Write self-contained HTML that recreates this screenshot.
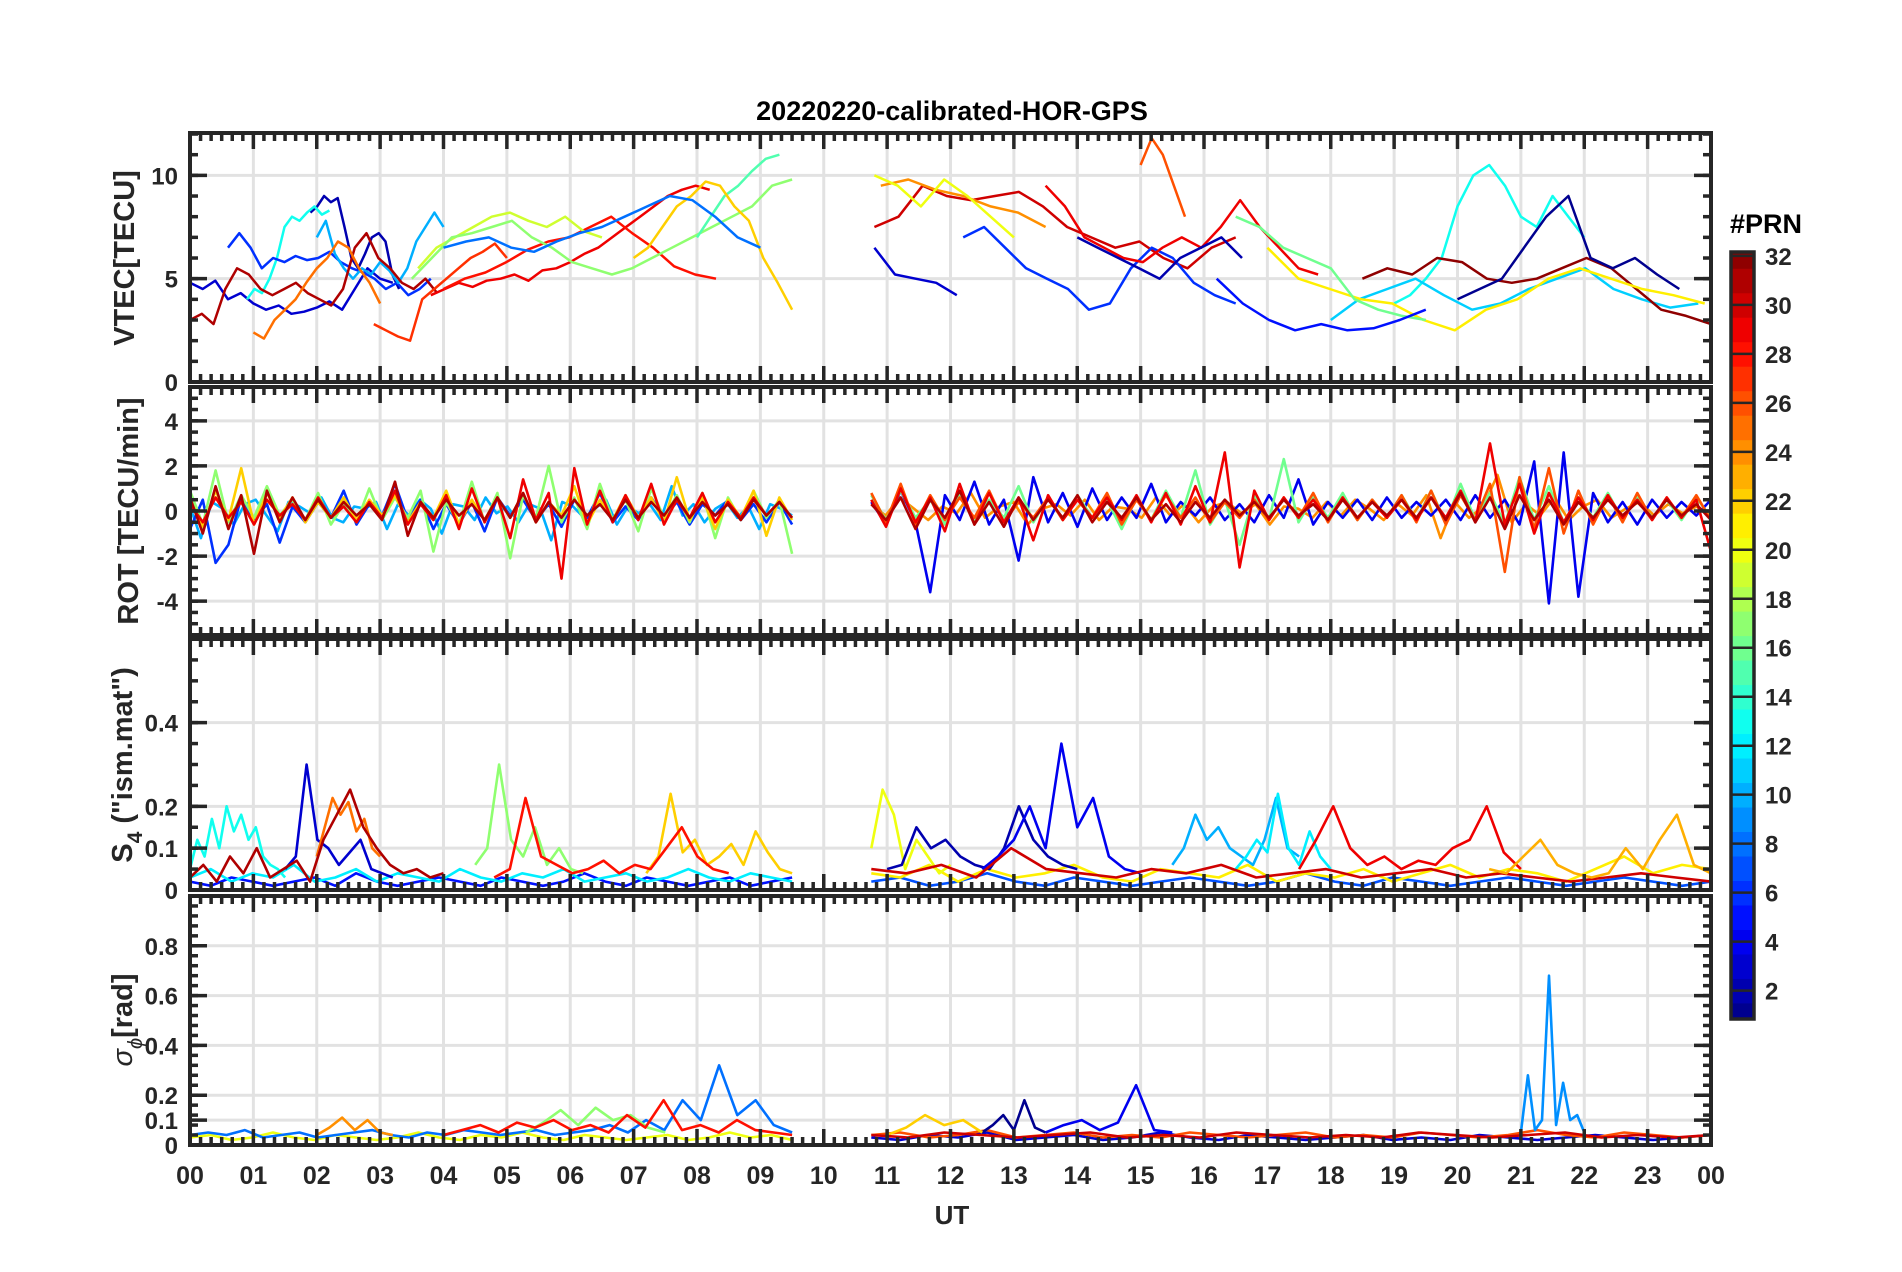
<!DOCTYPE html>
<html><head><meta charset="utf-8"><style>
html,body{margin:0;padding:0;background:#fff}
svg{display:block}
text{font-family:"Liberation Sans",Arial,sans-serif;font-weight:bold;fill:#262626}
</style></head><body>
<svg id="chart" width="1902" height="1272" viewBox="0 0 1902 1272" xmlns="http://www.w3.org/2000/svg">
<text x="952" y="120" text-anchor="middle" font-size="27" style="fill:#000">20220220-calibrated-HOR-GPS</text>
<text x="952" y="1224" text-anchor="middle" font-size="26">UT</text>
<g id="layer"></g>
</svg>
<script>
// ---------------- DATA ----------------
const xTickLabels=["00","01","02","03","04","05","06","07","08","09","10","11","12","13","14","15","16","17","18","19","20","21","22","23","00"];
const cbTickLabels=[2,4,6,8,10,12,14,16,18,20,22,24,26,28,30,32];
// VTEC series: prn, start hour, end hour, values (TECU)
const vtecPrn=[3,2,13,6,10,31,25,27,29,28,19,17,15,22,8, 30,24,20,3,6,29,26,2,13,11,32,21,1,16,5];
const vtecStart=[0,1.9,0.9,0.6,2.0,0,1.0,2.9,3.8,4.0,3.6,3.5,8.0,7.0,4.0, 10.8,10.9,10.8,10.8,12.2,13.5,15.0,14.0,19.0,18.0,18.5,17.0,20.0,16.5,16.2];
const vtecEnd=[3.2,3.3,2.2,3.8,4.0,3.9,3.0,5.0,8.2,8.3,6.5,9.5,9.3,9.5,9.0, 16.5,13.5,13.0,12.1,16.5,17.8,15.7,16.6,22.0,23.8,24.0,23.9,23.5,19.5,19.5];
const vtecVals=[
[4.8,4.5,4.9,4.0,4.3,3.8,3.5,3.7,3.3,3.4,3.6,3.9,3.5,4.5,5.5,5.0,4.8],
[8.2,8.5,9,8.7,8.9,7.5,6,5.5,6.2,7,7.2,6.8,5.2,4.5],
[4,4.5,4.3,5,6,7.5,8,7.8,8.2,8.5,8.1,8.3],
[6.5,7.2,6.5,5.5,6,5.8,6.1,5.9,6,6.3,5.8,5.5,5.3,5,4.5,4.8,4.2,4.5,5],
[7,7.8,6.2,5.5,5,5.5,5.2,5.8,5.4,4.8,5.5,6.8,7.5,8.2,7.5],
[3,3.3,2.8,4.5,5.5,5.2,4.5,4.2,4.5,4.8,4.3,4.0,3.7,4.5,6.5,7.2,6,5.5,4.8,4.5,5,4.3],
[2.4,2.1,3,3.5,4,4.8,5.5,6,6.8,6.5,5.5,4.8,3.8],
[2.8,2.5,2.2,2,4,4.5,5,5.5,6,6.3,6.7,6],
[4.2,4.5,4.8,4.6,4.9,5,5.2,4.9,5.4,5.5,5.8,6.2,6.5,7,7.5,8,8.5,9,9.3,9.5,9.3],
[4.5,5,5.3,5.8,6.4,6.8,7,7.5,8,7.2,6.5,5.6,5.2,5],
[5.5,6.5,7,7.5,8,8.2,7.8,7.5,8,7.3,7],
[5,6,7,7.2,7.5,7.8,7,6.5,5.8,5.5,5.2,5.5,6,6.5,7,7.5,8,8.5,9.5,9.8],
[7,8,9,9.5,10.2,10.8,11],
[6,6.5,7.5,8.5,9,9.7,9.5,8.5,7.8,6,4.8,3.5],
[6.5,6.8,7,6.5,6.3,6.8,7.2,7.5,8,8.5,9,8.8,8,7,6.5],
[7.5,8,9.5,9,8.8,9,9.2,8.5,7.5,7,6.5,6.8,6,5.5,6.5,7],
[9.5,9.8,9.3,9,8.5,8.2,7.5],
[10,9.5,8.5,9.8,9,8,7],
[6.5,5.2,5,4.8,4.2],
[7,7.5,6.5,5.5,5,4.5,3.5,3.8,5.5,6.5,6,4.8,4.2,3.8],
[9.5,8.5,7,6.5,6,5.8,6.5,7,6.5,7.5,8.8,7.5,6.5,5.5,5.2],
[10.5,11.8,11,9.5,8],
[7,6.5,6,5.5,5,6,6.5,7,6],
[3.8,4.2,5,6,8.5,10,10.5,9.5,8,7.5,9,8,7],
[3,4,4.5,5,4.2,3.5,3.8,4.5,5,5.5,4.5,4,3.6,3.8],
[5,5.5,5.2,6,5.8,5,4.8,5,5.5,6,5.5,4.5,3.5,3.2,2.8],
[6.5,5,4.5,4,3.8,3,2.5,3.5,4,5,5.5,5,4.5,4.2,3.8],
[4,4.5,5,6.5,8,9,6,5.5,6,5.2,4.5],
[8,7.5,6.5,6,5.5,4,3.5,3.2,3],
[5,3.8,3,2.5,2.8,2.5,2.6,3,3.5]
];
// ROT series (TECU/min)
const rotPrn=[10,6,17,22,29,31, 24,4,16,26,29,31];
const rotStart=[0,0,0,0,0,0, 10.75,10.75,10.75,10.75,10.75,10.75];
const rotEnd=[9.5,9.5,9.5,9.5,9.5,9.5, 24,24,24,24,24,24];
const rotVals=[
[0.2,-1.2,0.4,0.1,-0.6,0.3,0.5,-0.2,-0.9,0.4,0.2,-0.1,0.6,-0.3,-0.5,0.2,0.1,0.4,-0.8,0.3,-0.2,0.5,0.1,-1.0,0.3,0.2,-0.4,0.6,-0.1,0.2,-0.5,0.3,0.1,-1.3,0.4,0.2,-0.3,0.1,0.5,-0.6,0.2,-0.1,0.3,-0.4,1.1,-0.2,0.3,-0.5,0.1,0.4,-0.3,0.2,-0.8,0.3,0.1,-0.2],
[-0.8,0.5,-2.3,-1.5,0.6,-0.4,0.3,-1.4,0.2,-0.5,0.4,-0.3,0.9,-0.6,0.3,-0.2,1.2,-0.4,0.5,-0.8,0.3,-0.6,0.4,-0.9,0.6,-0.2,0.5,-0.4,0.3,-0.7,0.5,-0.3,0.8,-0.5,0.2,-0.4,0.6,-0.3,0.4,-0.6,0.3,-0.2,0.5,-0.4,0.3,-0.5,0.4,-0.6],
[0.9,-0.6,1.8,-0.5,0.7,-0.3,1.1,-0.2,0.5,-0.4,0.8,-0.6,0.3,-0.5,1.0,-0.4,0.6,-0.3,0.9,-1.8,0.4,-0.6,1.3,-0.5,0.8,-2.1,0.7,-0.3,2.0,-0.5,0.6,-0.8,1.2,-0.4,0.5,-0.9,1.0,-0.3,0.7,-0.5,0.8,-1.2,0.6,-0.4,0.9,-0.3,0.5,-1.9],
[0.5,-0.7,0.9,-0.4,1.9,-0.6,0.8,-0.3,0.6,-0.5,0.4,-0.3,0.6,-0.4,0.5,-0.2,0.7,-0.5,0.4,-0.3,0.9,-0.6,0.5,-0.4,0.6,-0.3,0.8,-0.5,0.4,-0.2,1.1,-0.6,0.5,-0.4,0.7,-0.3,0.6,-0.5,1.5,-0.4,0.6,-0.8,0.5,-0.3,0.9,-1.1,0.6,-0.4],
[0.3,-0.5,0.6,-0.3,0.4,-0.6,0.5,-0.2,0.3,-0.4,0.6,-0.3,0.2,-0.5,0.4,-0.3,0.9,-0.6,0.3,-0.4,0.7,-0.8,1.0,-0.5,0.6,-1.2,1.4,-0.4,0.8,-3.0,1.9,-0.6,0.9,-0.5,0.7,-0.4,1.2,-0.6,0.5,-0.3,0.8,-0.5,0.4,-0.3,0.6,-0.2,0.4,-0.3],
[0.6,-1.0,1.1,-0.8,0.7,-1.9,0.9,-0.5,0.6,-0.4,0.5,-0.3,0.4,-0.2,0.3,-0.4,1.3,-1.1,0.4,-0.3,0.5,-0.2,0.3,-0.4,0.6,-0.3,0.8,-0.5,0.4,-0.3,0.5,-0.2,0.3,-0.4,0.5,-0.3,0.4,-0.2,0.6,-0.3,0.4,-0.2,0.3,-0.4,0.5,-0.2,0.4,-0.3],
[0.3,-0.2,0.6,0.1,-0.4,0.2,-0.1,0.8,-0.3,0.2,0.4,-0.6,0.1,0.3,-0.2,0.5,-0.4,0.2,0.1,-0.3,0.6,-0.2,0.3,-0.5,0.2,0.4,-0.1,0.3,-0.6,0.2,0.1,-0.3,0.4,-0.2,0.5,0.1,-0.4,0.3,-0.2,0.7,-1.2,0.4,-0.3,0.2,1.6,-0.5,0.3,-0.2,0.6,-0.4,0.2,0.5,-0.3,0.1,0.4,-0.2,0.3,-0.1,0.2,-0.3],
[0.4,-0.6,0.9,-0.5,-3.6,0.7,-0.4,1.3,-0.6,0.5,-2.2,1.5,-0.5,0.8,-0.7,1.0,-0.4,0.6,-0.3,1.2,-0.5,0.4,-0.2,0.6,-0.4,0.3,-0.5,0.7,-0.3,1.4,-0.6,0.4,-0.3,0.5,-0.4,0.6,-0.3,0.4,-0.2,0.5,-0.4,0.7,-0.3,0.5,-0.6,2.2,-4.1,2.6,-3.8,0.8,-0.5,0.4,-0.6,0.5,-0.3,0.4,-0.2,0.5],
[0.7,-0.4,0.9,-0.3,0.5,-0.6,0.8,-0.4,0.5,-0.3,1.1,-0.5,0.6,-0.4,0.7,-0.3,0.5,-0.8,0.6,-0.4,0.9,-0.3,1.8,-0.6,0.5,-1.5,0.7,-0.4,2.3,-0.5,0.6,-0.3,0.8,-0.4,0.5,-0.3,0.7,-0.4,0.9,-0.5,1.2,-0.4,0.8,-0.6,1.5,-0.4,1.1,-0.5,0.6,-0.3,0.8,-0.4,0.6,-0.3,0.5,-0.4,0.6,-0.3],
[0.8,-0.5,1.2,-0.6,0.7,-0.4,0.6,-0.3,0.9,-0.5,0.4,-0.3,0.6,-0.4,0.5,-0.3,0.8,-0.6,0.5,-0.4,0.7,-0.3,0.6,-0.5,0.4,-0.3,0.5,-0.4,0.6,-0.3,0.8,-0.5,0.6,-0.4,0.5,-0.3,0.7,-0.5,0.9,-0.6,0.7,-0.4,1.2,-2.7,1.5,-0.8,1.9,-1.0,0.9,-0.6,0.7,-0.5,0.8,-0.4,0.6,-0.3,0.7,-0.4],
[0.5,-0.7,1.0,-0.5,0.6,-0.9,1.2,-0.6,0.8,-0.5,0.6,-1.3,0.7,-0.4,0.5,-0.3,0.6,-0.4,0.7,-0.5,0.8,-0.6,1.1,-0.5,2.6,-2.5,0.9,-0.4,0.6,-0.3,0.5,-0.4,0.6,-0.3,0.4,-0.3,0.5,-0.4,0.6,-0.3,0.9,-0.5,3.0,-0.6,1.2,-1.0,0.8,-0.5,0.6,-0.4,0.7,-0.3,0.5,-0.4,0.6,-0.3,0.5,-1.8],
[0.3,-0.4,0.6,-0.8,0.5,-0.3,0.9,-0.6,0.4,-0.7,0.6,-0.4,0.5,-0.3,0.7,-0.5,0.4,-0.3,0.6,-0.4,0.3,-0.5,0.4,-0.3,0.5,-0.2,0.4,-0.3,0.5,-0.2,0.3,-0.4,0.5,-0.3,0.4,-0.2,0.5,-0.3,0.6,-0.4,0.8,-0.5,0.6,-0.8,0.7,-0.4,0.5,-0.6,0.4,-0.3,0.5,-0.2,0.4,-0.3,0.5,-0.2,0.3,-0.4]
];
// S4 series
const s4Prn=[5,12,13,3,25,31,17,22,28, 7,21,20,2,4,10,12,30,29,23];
const s4Start=[0,0,0,1.5,2.0,0,4.5,7.2,4.8, 10.75,10.75,10.75,11.0,12.5,15.5,16.5,10.75,17.5,20.5];
const s4End=[9.5,9.5,1.5,3.2,3.0,4.0,6.2,9.5,8.5, 24,24,12.0,14.0,15.0,17.5,18.0,24.0,21.0,24.0];
const s4Vals=[
[0.02,0.01,0.03,0.02,0.01,0.02,0.03,0.01,0.04,0.02,0.01,0.02,0.03,0.02,0.01,0.03,0.02,0.01,0.02,0.04,0.02,0.01,0.03,0.02,0.01,0.02,0.03,0.01,0.02,0.03],
[0.03,0.05,0.02,0.04,0.03,0.06,0.02,0.03,0.05,0.02,0.04,0.03,0.02,0.05,0.03,0.02,0.04,0.03,0.05,0.02,0.03,0.04,0.02,0.03,0.05,0.03,0.02,0.04,0.03,0.02],
[0.05,0.12,0.08,0.17,0.1,0.2,0.14,0.18,0.12,0.15,0.08,0.06,0.05,0.03],
[0.05,0.08,0.3,0.12,0.1,0.06,0.09,0.12,0.05,0.04,0.03],
[0.08,0.15,0.22,0.18,0.21,0.14,0.17,0.1,0.08],
[0.03,0.06,0.02,0.08,0.04,0.1,0.03,0.05,0.07,0.02,0.12,0.18,0.24,0.15,0.1,0.06,0.04,0.05,0.03,0.04],
[0.06,0.1,0.3,0.12,0.08,0.15,0.06,0.1,0.05,0.04],
[0.04,0.08,0.23,0.09,0.12,0.06,0.08,0.11,0.06,0.14,0.09,0.05,0.04],
[0.03,0.05,0.22,0.08,0.06,0.04,0.05,0.07,0.04,0.06,0.05,0.1,0.15,0.08,0.05,0.04],
[0.02,0.03,0.01,0.02,0.04,0.02,0.01,0.03,0.02,0.01,0.02,0.03,0.02,0.01,0.02,0.04,0.02,0.01,0.03,0.02,0.01,0.02,0.03,0.02,0.01,0.02,0.03,0.02,0.01,0.02],
[0.04,0.03,0.06,0.02,0.05,0.03,0.04,0.06,0.03,0.02,0.05,0.04,0.03,0.06,0.02,0.04,0.03,0.05,0.02,0.04,0.06,0.03,0.05,0.04,0.02,0.05,0.08,0.04,0.06,0.05],
[0.1,0.24,0.18,0.05,0.12,0.08,0.04,0.06],
[0.05,0.06,0.15,0.1,0.12,0.08,0.06,0.05,0.1,0.2,0.12,0.08,0.06,0.05],
[0.05,0.08,0.12,0.2,0.1,0.35,0.15,0.22,0.08,0.05,0.04],
[0.06,0.1,0.18,0.12,0.15,0.1,0.08,0.06,0.12,0.22,0.1,0.08],
[0.05,0.08,0.12,0.09,0.23,0.1,0.06,0.14,0.08,0.05],
[0.05,0.04,0.06,0.03,0.1,0.05,0.04,0.03,0.05,0.04,0.06,0.03,0.04,0.05,0.03,0.04,0.05,0.03,0.04,0.03,0.02,0.03,0.04,0.03,0.02],
[0.05,0.12,0.2,0.1,0.06,0.08,0.05,0.07,0.06,0.1,0.12,0.2,0.09,0.05],
[0.05,0.04,0.08,0.12,0.06,0.04,0.03,0.04,0.1,0.05,0.12,0.18,0.06,0.04]
];
// sigma-phi series
const spPrn=[20,8,24,17,28, 3,26,1,9,22,30,4];
const spStart=[0,0,2.0,5.3,4.0, 10.75,10.75,12.5,21.0,11.0,10.75,13.5];
const spEnd=[9.5,9.5,3.2,7.5,9.5, 24,24,13.5,22.0,12.5,24.0,15.5];
const spVals=[
[0.03,0.04,0.02,0.03,0.05,0.03,0.02,0.04,0.03,0.02,0.03,0.05,0.03,0.02,0.04,0.03,0.05,0.03,0.02,0.04,0.03,0.02,0.03,0.04,0.02,0.03,0.05,0.03,0.04,0.02],
[0.04,0.05,0.04,0.06,0.03,0.04,0.05,0.03,0.04,0.05,0.06,0.04,0.03,0.05,0.04,0.06,0.05,0.04,0.05,0.06,0.04,0.05,0.06,0.08,0.05,0.1,0.06,0.18,0.1,0.32,0.12,0.18,0.08,0.05],
[0.04,0.07,0.11,0.06,0.1,0.05,0.04],
[0.05,0.09,0.14,0.08,0.15,0.1,0.12,0.07,0.05],
[0.04,0.06,0.08,0.05,0.09,0.07,0.1,0.06,0.08,0.05,0.12,0.07,0.18,0.06,0.08,0.05,0.1,0.06,0.05,0.04],
[0.03,0.02,0.04,0.03,0.05,0.02,0.03,0.04,0.02,0.03,0.05,0.03,0.02,0.04,0.03,0.02,0.03,0.04,0.02,0.03,0.02,0.04,0.03,0.02,0.03,0.04,0.03,0.02,0.03,0.04],
[0.04,0.05,0.03,0.04,0.06,0.03,0.04,0.05,0.03,0.04,0.03,0.05,0.04,0.03,0.04,0.05,0.03,0.04,0.03,0.05,0.04,0.03,0.04,0.06,0.04,0.03,0.05,0.04,0.03,0.04],
[0.05,0.08,0.12,0.06,0.18,0.07,0.05],
[0.05,0.28,0.06,0.1,0.68,0.08,0.25,0.1,0.12,0.05],
[0.04,0.07,0.12,0.08,0.1,0.05],
[0.04,0.03,0.05,0.04,0.03,0.04,0.05,0.03,0.04,0.03,0.05,0.04,0.03,0.04,0.03,0.05,0.04,0.03,0.04,0.05,0.03,0.04,0.03,0.04],
[0.05,0.08,0.1,0.06,0.09,0.24,0.06,0.05]
];

// ---------------- LAYOUT ----------------
const X0=190, X1=1711;
const xs=h=>X0+(X1-X0)*h/24;
const panels=[
 {name:"vtec",top:133,bot:382,ymin:0,ymax:12.05,ticks:[0,5,10],labels:["0","5","10"],minor:1},
 {name:"rot",top:387,bot:635,ymin:-5.5,ymax:5.5,ticks:[-4,-2,0,2,4],labels:["-4","-2","0","2","4"],minor:0.5},
 {name:"s4",top:639,bot:890,ymin:0,ymax:0.6,ticks:[0,0.1,0.2,0.4],labels:["0","0.1","0.2","0.4"],minor:0.05},
 {name:"sigma",top:896,bot:1145,ymin:0,ymax:1.0,ticks:[0,0.1,0.2,0.4,0.6,0.8],labels:["0","0.1","0.2","0.4","0.6","0.8"],minor:0.04}
];
function jet(v){
  const r=Math.min(Math.max(Math.min(4*v-1.5,-4*v+4.5),0),1);
  const g=Math.min(Math.max(Math.min(4*v-0.5,-4*v+3.5),0),1);
  const b=Math.min(Math.max(Math.min(4*v+0.5,-4*v+2.5),0),1);
  return `rgb(${Math.round(r*255)},${Math.round(g*255)},${Math.round(b*255)})`;
}
const prnColor=p=>jet((p-0.5)/32);
const NS="http://www.w3.org/2000/svg";
const layer=document.getElementById('layer');
function mk(tag,attrs,parent){const e=document.createElementNS(NS,tag);for(const k in attrs)e.setAttribute(k,attrs[k]);(parent||layer).appendChild(e);return e;}

panels.forEach(P=>{
  const ys=v=>P.bot-(P.bot-P.top)*(v-P.ymin)/(P.ymax-P.ymin);
  P.ys=ys;
  const g=mk('g',{});
  
  
  for(let h=1;h<24;h++){const l=mk('line',{x1:xs(h),x2:xs(h),y1:P.top,y2:P.bot,stroke:'#e2e2e2','stroke-width':3},g);
    }
  P.ticks.forEach(t=>{const l=mk('line',{x1:X0,x2:X1,y1:ys(t),y2:ys(t),stroke:'#e2e2e2','stroke-width':3},g);
    });
  P.g=g;
});

function drawSeries(P,prn,st,en,vals,w){
  prn.forEach((p,i)=>{
    const v=vals[i],n=v.length;
    const pts=v.map((y,j)=>[xs(st[i]+(en[i]-st[i])*j/(n-1)),P.ys(Math.max(P.ymin,Math.min(P.ymax,y)))]);
    const pl=mk('polyline',{points:pts.map(q=>q[0].toFixed(1)+','+q[1].toFixed(1)).join(' '),fill:'none',stroke:prnColor(p),'stroke-width':w,'stroke-linejoin':'round'},P.g);
    
    
  });
}
drawSeries(panels[0],vtecPrn,vtecStart,vtecEnd,vtecVals,2.5);
drawSeries(panels[1],rotPrn,rotStart,rotEnd,rotVals,2.6);
drawSeries(panels[2],s4Prn,s4Start,s4End,s4Vals,2.6);
drawSeries(panels[3],spPrn,spStart,spEnd,spVals,2.6);

panels.forEach((P,pi)=>{
  const g=mk('g',{});
  
  
  const c='#262626';
  for(let m=0;m<=144;m++){const x=xs(m/6);const L=(m%6===0)?16:8;
    mk('line',{x1:x,x2:x,y1:P.top,y2:P.top+L,stroke:c,'stroke-width':3.5},g);
    mk('line',{x1:x,x2:x,y1:P.bot,y2:P.bot-L,stroke:c,'stroke-width':3.5},g);}
  for(let v=Math.ceil(P.ymin/P.minor-1e-6)*P.minor;v<=P.ymax+1e-9;v+=P.minor){const y=P.ys(v);
    mk('line',{x1:X0,x2:X0+8,y1:y,y2:y,stroke:c,'stroke-width':3.5},g);
    mk('line',{x1:X1,x2:X1-8,y1:y,y2:y,stroke:c,'stroke-width':3.5},g);}
  P.ticks.forEach((t,i)=>{const y=P.ys(t);
    mk('line',{x1:X0,x2:X0+17,y1:y,y2:y,stroke:c,'stroke-width':3.5},g);
    mk('line',{x1:X1,x2:X1-17,y1:y,y2:y,stroke:c,'stroke-width':3.5},g);
    const tx=mk('text',{x:X0-12,y:y+9,'text-anchor':'end','font-size':24},g);
    tx.textContent=P.labels[i];
    
    
  });
  mk('rect',{x:X0,y:P.top,width:X1-X0,height:P.bot-P.top,fill:'none',stroke:c,'stroke-width':4},g);
});
xTickLabels.forEach((s,i)=>{const t=mk('text',{x:xs(i),y:1184,'text-anchor':'middle','font-size':25});t.textContent=s;
  });

function ytitle(cx,cy,html,name){const t=mk('text',{transform:`translate(${cx},${cy}) rotate(-90)`,'text-anchor':'middle','font-size':29});t.innerHTML=html;
  }
ytitle(134,258,'VTEC[TECU]','vtec-y-axis-title');
ytitle(138,511,'ROT [TECU/min]','rot-y-axis-title');
ytitle(132,765,'S<tspan font-size="21" dy="10">4</tspan><tspan dy="-10"> ("ism.mat")</tspan>','s4-y-axis-title');
ytitle(132,1020,'<tspan font-style="italic" font-weight="normal">σ</tspan><tspan font-style="italic" font-weight="normal" font-size="20" dy="10">ϕ</tspan><tspan dy="-10">[rad]</tspan>','sigma-phi-y-axis-title');

const CB={x:1731,w:23,top:252,bot:1019,vmin:0.84,vmax:32.16};
const cbs=v=>CB.bot-(CB.bot-CB.top)*(v-CB.vmin)/(CB.vmax-CB.vmin);
const cg=mk('g',{});


for(let p=1;p<=32;p++){const y1=cbs(p+0.5),y0=cbs(p-0.5);
  const r=mk('rect',{x:CB.x,y:Math.max(CB.top,y1),width:CB.w,height:Math.min(CB.bot,y0)-Math.max(CB.top,y1)+0.6,fill:prnColor(p)},cg);
  }
cbTickLabels.forEach(v=>{const y=cbs(v);
  mk('line',{x1:CB.x,x2:CB.x+CB.w,y1:y,y2:y,stroke:'#262626','stroke-width':2.5},cg);
  const t=mk('text',{x:CB.x+34,y:y+9,'font-size':24},cg);t.textContent=v;
  });
mk('rect',{x:CB.x,y:CB.top,width:CB.w,height:CB.bot-CB.top,fill:'none',stroke:'#262626','stroke-width':3.5},cg);
const ct=mk('text',{x:1766,y:233,'text-anchor':'middle','font-size':27},cg);ct.textContent='#PRN';ct.style.fill='#000';

</script>
</body></html>
